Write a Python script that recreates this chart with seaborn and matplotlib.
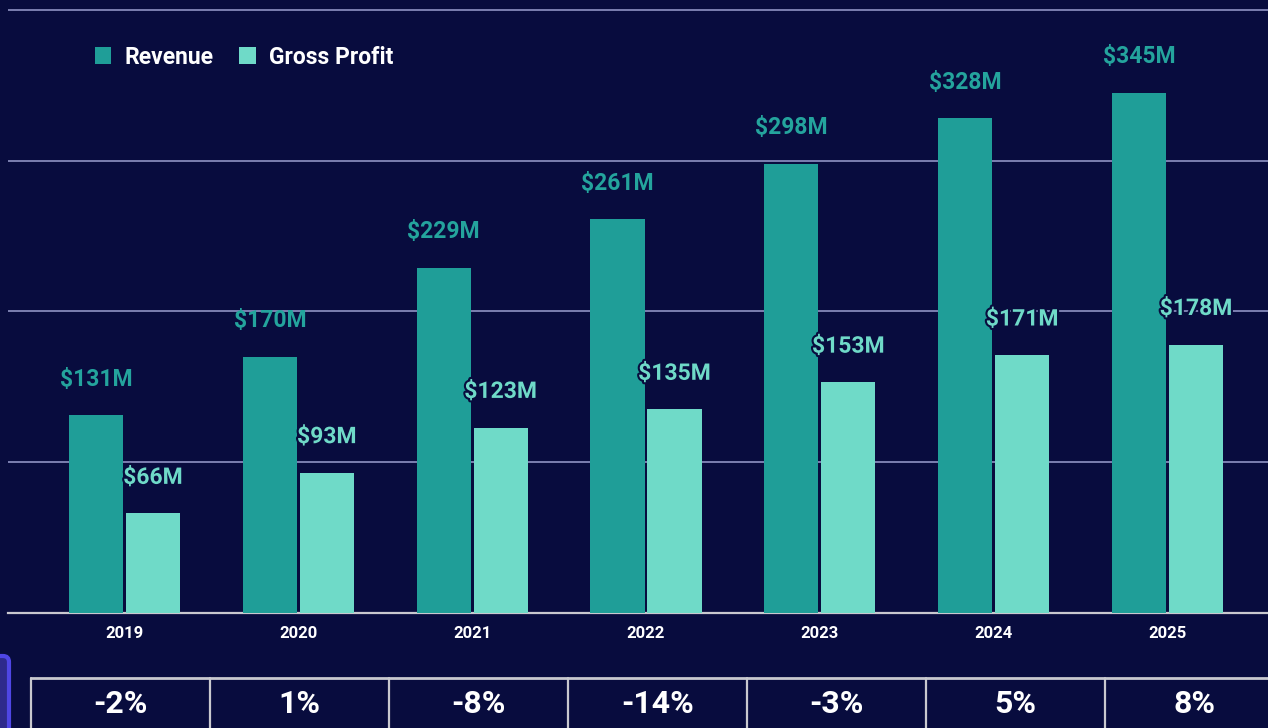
import matplotlib
matplotlib.use("Agg")
import matplotlib.pyplot as plt
import matplotlib.patheffects as pe
from matplotlib.patches import FancyBboxPatch, Patch
import seaborn as sns
import pandas as pd

years = ["2019", "2020", "2021", "2022", "2023", "2024", "2025"]
revenue = [131, 170, 229, 261, 298, 328, 345]
gross_profit = [66, 93, 123, 135, 153, 171, 178]
growth_labels = ["-2%", "1%", "-8%", "-14%", "-3%", "5%", "8%"]

BG = "#080c3e"
REV_COLOR = "#1f9e98"
REV_LABEL = "#24a49d"
GP_COLOR = "#6fdac8"
GRID_COLOR = "#8f93c4"
LINE_COLOR = "#c9c9cf"

sns.set_theme(style="dark")
plt.rcParams["font.family"] = ["Roboto", "DejaVu Sans"]

df = pd.DataFrame({
    "year": years * 2,
    "value": revenue + gross_profit,
    "series": ["Revenue"] * len(years) + ["Gross Profit"] * len(years),
})

W, H = 1268, 728
fig = plt.figure(figsize=(W / 100, H / 100), dpi=100, facecolor=BG)

ax = fig.add_axes([8 / W, (H - 613) / H, (W - 8) / W, 613 / H])
ax.set_facecolor(BG)

sns.barplot(data=df, x="year", y="value", hue="series",
            palette={"Revenue": REV_COLOR, "Gross Profit": GP_COLOR},
            width=0.655, gap=0.05, saturation=1, linewidth=0,
            legend=False, ax=ax, zorder=3)

ax.set_xlim(-0.67, 6.578)
ax.set_ylim(0, 406.5)
ax.set_yticks([100, 200, 300, 400])
ax.yaxis.grid(True, color=GRID_COLOR, linewidth=1.2, zorder=0)
ax.xaxis.grid(False)
ax.set_axisbelow(True)
ax.tick_params(axis="y", left=False, labelleft=False)
ax.tick_params(axis="x", bottom=False, pad=3.5, labelsize=12, labelcolor="white")
for lbl in ax.get_xticklabels():
    lbl.set_fontweight("bold")
ax.set_xlabel("")
ax.set_ylabel("")
for side in ["top", "right", "left"]:
    ax.spines[side].set_visible(False)
ax.spines["bottom"].set_color(LINE_COLOR)
ax.spines["bottom"].set_linewidth(1.6)

# value labels above each bar
outline = [pe.withStroke(linewidth=3, foreground=BG)]
for container, values, color, effects in zip(
        ax.containers, [revenue, gross_profit], [REV_LABEL, GP_COLOR], [None, outline]):
    for bar, v in zip(container, values):
        t = ax.annotate(f"${v}M", (bar.get_x() + bar.get_width() / 2, v),
                        xytext=(0, 26), textcoords="offset points",
                        ha="center", va="center", fontsize=16.5, fontweight="bold",
                        color=color, zorder=5, annotation_clip=False)
        if effects:
            t.set_path_effects(effects)

# legend
handles = [Patch(facecolor=REV_COLOR, edgecolor="none", label="Revenue"),
           Patch(facecolor=GP_COLOR, edgecolor="none", label="Gross Profit")]
leg = fig.legend(handles=handles, loc="center left",
                 bbox_to_anchor=(90 / W, 1 - 57 / H), ncol=2, frameon=False,
                 borderpad=0.2, borderaxespad=0,
                 handlelength=0.72, handleheight=0.72, handletextpad=0.6,
                 columnspacing=1.1, prop={"weight": "bold", "size": 16.5})
for txt in leg.get_texts():
    txt.set_color("white")

# growth row beneath the chart
tax = fig.add_axes([31 / W, (H - 760) / H, 1253 / W, 82 / H])
tax.set_xlim(0, 7)
tax.set_ylim(0, 82)
tax.axis("off")
tax.axhline(82, color=LINE_COLOR, linewidth=2, clip_on=False)
for i in range(8):
    tax.axvline(i, color=LINE_COLOR, linewidth=1.6, clip_on=False)
for i, g in enumerate(growth_labels):
    tax.text(i + 0.5, 56, g, ha="center", va="center", color="white",
             fontsize=23, fontweight="bold")

# side tab at lower left
tab = FancyBboxPatch((-30, -40), 39, H - 656 + 40,
                     boxstyle="round,pad=0,rounding_size=6",
                     transform=None, facecolor="#2e2a8c", edgecolor="#4f46e5",
                     linewidth=3)
fig.patches.append(tab)

fig.savefig("out.png", dpi=100, facecolor=BG)
